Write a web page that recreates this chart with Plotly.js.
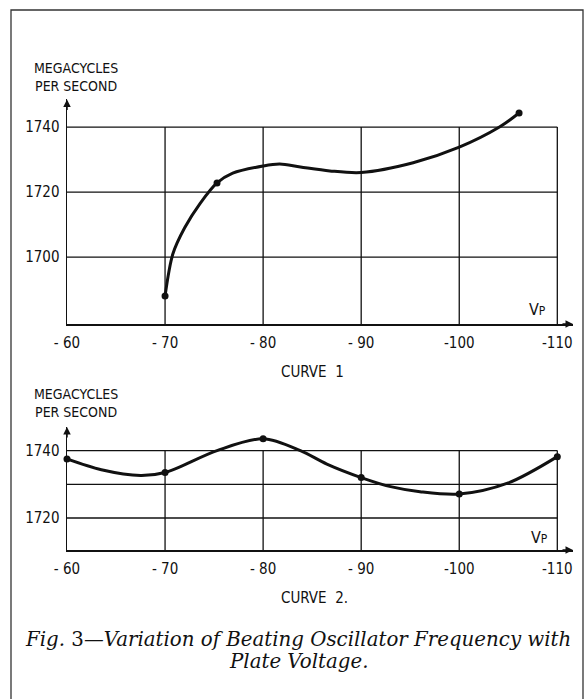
<!DOCTYPE html>
<html>
<head>
<meta charset="utf-8">
<script src="https://cdn.plot.ly/plotly-3.0.1.min.js"></script>
<style>html,body{margin:0;padding:0;background:#fff;}#chart{width:588px;height:699px;}</style>
</head>
<body>
<div id="chart"></div>
<script>
// ---- Data ----
// Curve 1: smooth curve and the plotted dots
const curve1X = [-70, -70.8, -72, -73.6, -75.3, -76.9, -80, -81.7, -83.8, -86.8, -90, -95.3, -100, -104.1, -106.1];
const curve1Y = [1688, 1701, 1709, 1716.6, 1722.8, 1725.8, 1728, 1728.6, 1727.7, 1726.5, 1726, 1729, 1733.8, 1740, 1744.3];
const dots1X = [-70, -75.3, -106.1];
const dots1Y = [1688, 1722.8, 1744.3];

// Curve 2
const curve2X = [-60, -63.5, -67.5, -70, -75.3, -80, -83.8, -86.5, -90, -93, -96, -100, -105, -110];
const curve2Y = [1737.5, 1734.3, 1732.6, 1733.5, 1740, 1743.5, 1740, 1736, 1732, 1729.3, 1727.8, 1727.1, 1730.4, 1738.2];
const dots2X = [-60, -70, -80, -90, -100, -110];
const dots2Y = [1737.5, 1733.5, 1743.5, 1732, 1727.1, 1738.2];

// Axes / ticks
const xTickVals = [-60, -70, -80, -90, -100, -110];
const xTickText = ['- 60', '- 70', '- 80', '- 90', '-100', '-110'];
const y1TickVals = [1700, 1720, 1740];
const y1Grid = [1700, 1720, 1740];
const y2TickVals = [1720, 1740];
const y2Grid = [1720, 1730, 1740];
const xGrid = [-70, -80, -90, -100, -110];

const yAxisLabel = 'MEGACYCLES<br>PER SECOND';
const curve1Title = 'CURVE  1';
const curve2Title = 'CURVE  2.';
const xVarLabel = 'V<span style="font-size:12px">P</span>';
const captionLine1 = '<i>Fig.</i> 3<i>—Variation of Beating Oscillator Frequency with</i>';
const captionLine2 = '<i>Plate Voltage.</i>';

// ---- Layout helpers ----
const W = 588, H = 699;
const px = v => v / W;
const py = v => 1 - v / H;
const LBL = 'DejaVu Sans Condensed, Liberation Sans Narrow, DejaVu Sans, sans-serif';
const black = '#111';

const x1Range = [-60, -111.6];
const y1Range = [1679.4, 1748.5];
const y2Range = [1710.5, 1747];

function gridShapes(xa, ya, yr, hVals) {
  const s = [];
  hVals.forEach(v => s.push({type:'line', xref:xa, yref:ya, x0:-60, x1:-110, y0:v, y1:v, line:{color:black, width:1.3}, layer:'below'}));
  xGrid.forEach(v => s.push({type:'line', xref:xa, yref:ya, x0:v, x1:v, y0:yr[0], y1:hVals[hVals.length-1], line:{color:black, width:1.3}, layer:'below'}));
  return s;
}

const lineStyle = {color: black, width: 3, shape: 'spline', smoothing: 0.9};
const markerStyle = {color: black, size: 7};

const traces = [
  {x: curve1X, y: curve1Y, xaxis:'x', yaxis:'y', mode:'lines', line: lineStyle, hoverinfo:'skip'},
  {x: dots1X, y: dots1Y, xaxis:'x', yaxis:'y', mode:'markers', marker: markerStyle, cliponaxis:false},
  {x: curve2X, y: curve2Y, xaxis:'x2', yaxis:'y2', mode:'lines', line: lineStyle, hoverinfo:'skip'},
  {x: dots2X, y: dots2Y, xaxis:'x2', yaxis:'y2', mode:'markers', marker: markerStyle, cliponaxis:false}
];

function xAxis(anchor) {
  return {
    domain: [px(67), px(573)], range: x1Range, anchor: anchor,
    showgrid: false, zeroline: false, showline: true, linecolor: black, linewidth: 1.5,
    tickvals: xTickVals, ticktext: xTickText, ticks: '', ticklabelstandoff: 4,
    tickfont: {family: LBL, size: 15, color: black}
  };
}
function yAxis(anchor, domain, range, tv) {
  return {
    domain: domain, range: range, anchor: anchor,
    showgrid: false, zeroline: false, showline: true, linecolor: black, linewidth: 1.5,
    tickvals: tv, ticktext: tv.map(String), ticks: '', ticklabelstandoff: 3,
    tickfont: {family: LBL, size: 15, color: black}
  };
}

const shapes = [
  {type:'path', xref:'paper', yref:'paper',
   path: 'M ' + px(11) + ',' + py(699) + ' L ' + px(11) + ',' + py(10) + ' L ' + px(583) + ',' + py(10) + ' L ' + px(583) + ',' + py(699),
   line:{color:'#333', width:1.3}}
].concat(gridShapes('x', 'y', y1Range, y1Grid)).concat(gridShapes('x2', 'y2', y2Range, y2Grid));

function arrow(xa, ya, x, y, axp, ayp) {
  return {xref: xa, yref: ya, x: x, y: y, ax: axp, ay: ayp, text: '', showarrow: true,
          arrowhead: 2, arrowsize: 1, arrowwidth: 1.5, arrowcolor: black, standoff: 0};
}
function label(x, y, text, font) {
  return {xref:'paper', yref:'paper', x: px(x), y: py(y), xanchor:'center', yanchor:'middle',
          text: text, showarrow:false, font: font, align:'center'};
}
const lblFont = s => ({family: LBL, size: s, color: black});
const capFont = {family: 'DejaVu Serif, Liberation Serif, serif', size: 19.8, color: black};

const annotations = [
  arrow('x', 'y', x1Range[1], y1Range[0], -12, 0),
  arrow('x', 'y', -60, y1Range[1], 0, 12),
  arrow('x2', 'y2', x1Range[1], y2Range[0], -12, 0),
  arrow('x2', 'y2', -60, y2Range[1], 0, 12),
  label(76, 77, yAxisLabel, lblFont(14)),
  label(76, 403, yAxisLabel, lblFont(14)),
  label(312, 372, curve1Title, lblFont(15)),
  label(314, 598, curve2Title, lblFont(15)),
  label(537, 309, xVarLabel, lblFont(16)),
  label(539, 537, xVarLabel, lblFont(16)),
  label(298, 639, captionLine1, capFont),
  label(298, 661, captionLine2, capFont)
];

const layout = {
  width: W, height: H, margin: {l:0, r:0, t:0, b:0},
  paper_bgcolor: '#fff', plot_bgcolor: 'rgba(0,0,0,0)', showlegend: false,
  xaxis: xAxis('y'),
  yaxis: yAxis('x', [py(324), py(99.4)], y1Range, y1TickVals),
  xaxis2: xAxis('y2'),
  yaxis2: yAxis('x2', [py(550), py(427)], y2Range, y2TickVals),
  shapes: shapes,
  annotations: annotations
};

Plotly.newPlot('chart', traces, layout, {staticPlot: true, displayModeBar: false});
</script>
</body>
</html>
